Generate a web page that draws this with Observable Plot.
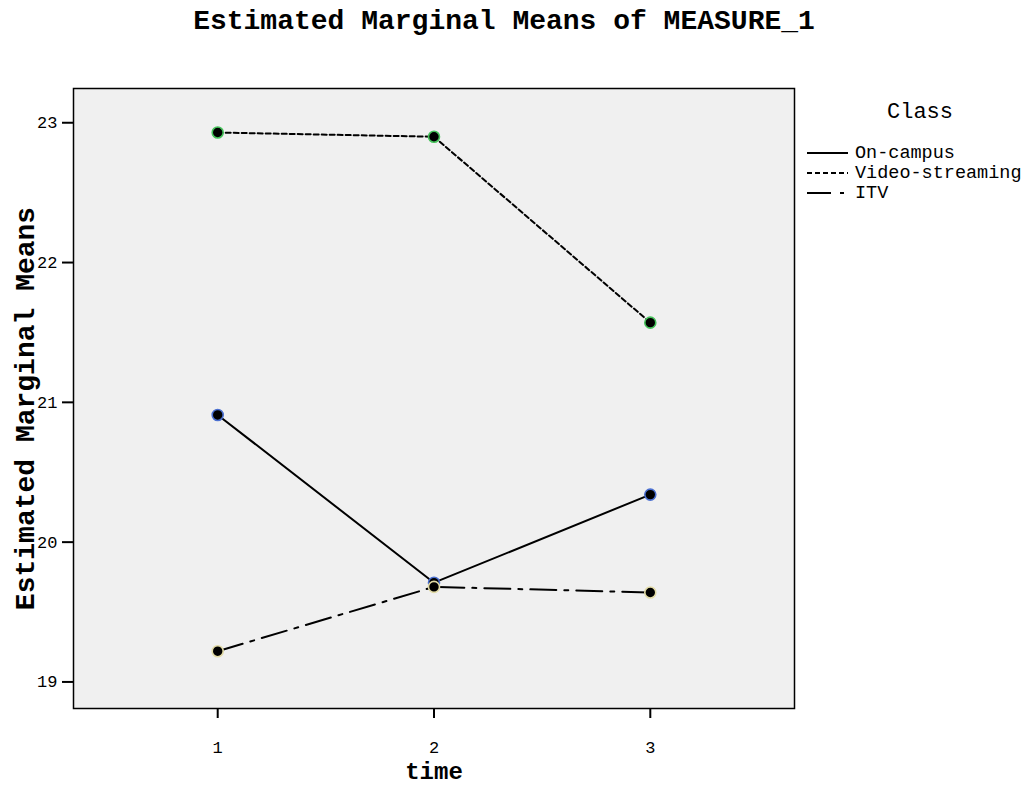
<!DOCTYPE html>
<html>
<head>
<meta charset="utf-8">
<script src="https://cdn.jsdelivr.net/npm/d3@7"></script>
<script src="https://cdn.jsdelivr.net/npm/@observablehq/plot@0.6"></script>
<style>
  html, body { margin: 0; padding: 0; background: #ffffff; }
  #wrap { position: relative; width: 1029px; height: 786px; background: #ffffff; font-family: "Liberation Mono", "DejaVu Sans Mono", monospace; }
  #chart { position: absolute; left: 0; top: 0; }
  #title { position: absolute; left: 0; top: 6px; width: 1008px; text-align: center; font-size: 28px; font-weight: bold; color: #000; white-space: nowrap; }
  #legend { position: absolute; left: 806px; top: 100px; width: 223px; }
  #legend .ltitle { position: absolute; left: 0; top: 0; width: 228px; text-align: center; font-size: 22px; color: #000; }
  #legend .item { position: absolute; left: 0; height: 20px; display: flex; align-items: center; font-size: 18.5px; color: #000; white-space: nowrap; }
  #legend svg { margin-right: 7px; }
</style>
</head>
<body>
<div id="wrap">
  <div id="chart"></div>
  <div id="title"></div>
  <div id="legend"></div>
</div>
<script>
// ---- data ----
const chartTitle = "Estimated Marginal Means of MEASURE_1";
const xLabel = "time";
const yLabel = "Estimated Marginal Means";
const legendTitle = "Class";
const times = [1, 2, 3];
const classes = ["On-campus", "Video-streaming", "ITV"];
const onCampus = [20.91, 19.71, 20.34];
const videoStreaming = [22.93, 22.90, 21.57];
const itv = [19.22, 19.68, 19.64];
const yTicks = [19, 20, 21, 22, 23];

// ---- styles ----
const seriesValues = [onCampus, videoStreaming, itv];
const dashes = [null, "5,3", "26,8,4,8"];
const ringColors = ["#4a6fd0", "#45c25a", "#e2dba6"];
const font = "Liberation Mono, DejaVu Sans Mono, monospace";

const rows = [];
classes.forEach((c, i) => seriesValues[i].forEach((v, j) => rows.push({cls: c, time: times[j], value: v})));

const lineMarks = classes.map((c, i) => Plot.line(rows.filter(d => d.cls === c), {
  x: "time", y: "value", stroke: "black", strokeWidth: 2,
  ...(dashes[i] ? {strokeDasharray: dashes[i]} : {})
}));

const plot = Plot.plot({
  width: 1029,
  height: 786,
  marginLeft: 73,
  marginRight: 235,
  marginTop: 88,
  marginBottom: 78,
  style: {fontFamily: font, background: "transparent", color: "black", overflow: "visible"},
  x: {domain: [1/3, 11/3]},
  y: {domain: [18.81, 23.245]},
  color: {domain: classes, range: ringColors},
  marks: [
    Plot.frame({fill: "#f0f0f0"}),
    ...lineMarks,
    Plot.dot(rows, {x: "time", y: "value", r: 5.5, fill: "black", stroke: "cls", strokeWidth: 1.6}),
    Plot.frame({stroke: "black", strokeWidth: 1.5}),
    Plot.axisX({ticks: times, tickFormat: d => String(d), tickSize: 10, tickPadding: 22, fontSize: 17, strokeWidth: 2, label: null}),
    Plot.axisY({ticks: yTicks, tickFormat: d => String(d), tickSize: 11, tickPadding: 5, fontSize: 17, strokeWidth: 2, label: null}),
    Plot.text([yLabel], {frameAnchor: "left", dx: -48, dy: 10, rotate: -90, textAnchor: "middle", lineAnchor: "middle", fontSize: 28, fontWeight: "bold", fill: "black", text: d => d}),
    Plot.text([xLabel], {frameAnchor: "bottom", dy: 63, textAnchor: "middle", lineAnchor: "middle", fontSize: 24, fontWeight: "bold", fill: "black", text: d => d})
  ]
});
document.getElementById("chart").appendChild(plot);
document.getElementById("title").textContent = chartTitle;

// ---- legend ----
const legend = document.getElementById("legend");
const lt = document.createElement("div");
lt.className = "ltitle";
lt.textContent = legendTitle;
legend.appendChild(lt);
classes.forEach((c, i) => {
  const item = document.createElement("div");
  item.className = "item";
  item.style.top = (43 + i * 20) + "px";
  const svg = d3.create("svg").attr("width", 42).attr("height", 6);
  const ln = svg.append("line").attr("x1", 1).attr("x2", 42).attr("y1", 3).attr("y2", 3)
    .attr("stroke", "black").attr("stroke-width", 2);
  if (dashes[i]) ln.attr("stroke-dasharray", i === 2 ? "24,9,4,9" : dashes[i]);
  item.appendChild(svg.node());
  const t = document.createElement("span");
  t.textContent = c;
  item.appendChild(t);
  legend.appendChild(item);
});
</script>
</body>
</html>
